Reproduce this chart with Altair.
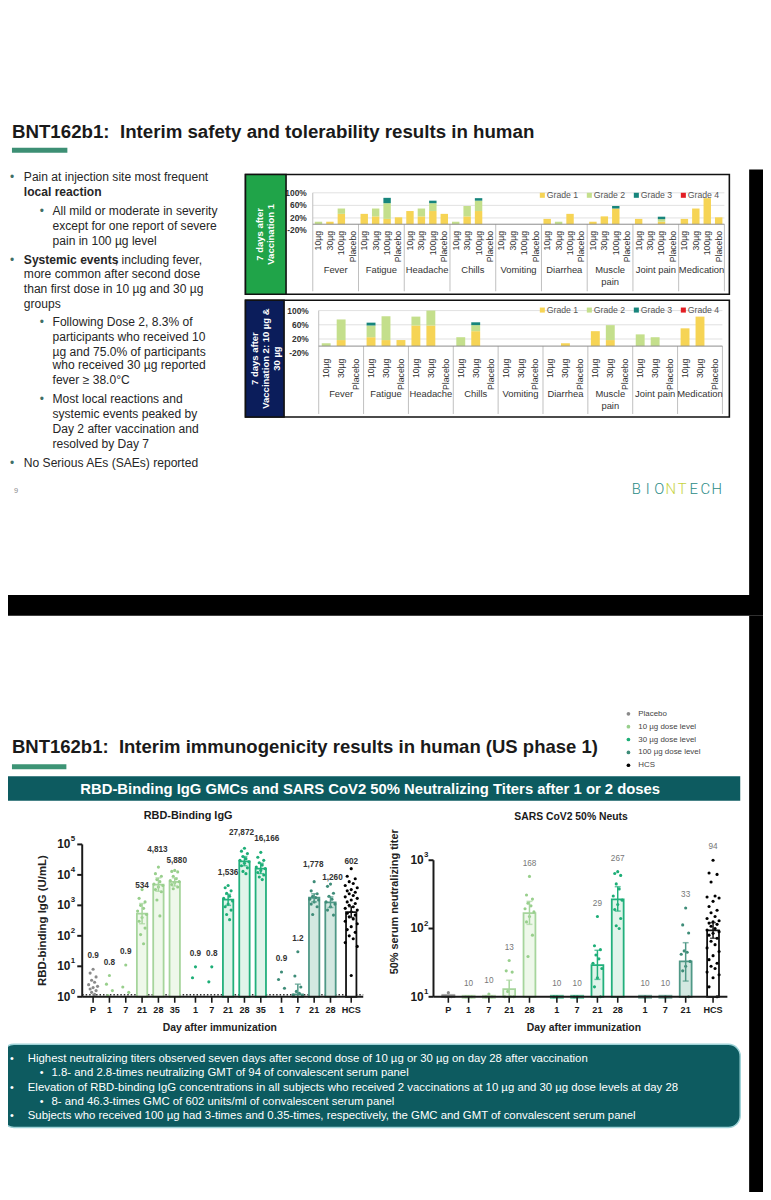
import altair as alt
import pandas as pd

# ===================== DATA: slide 1 (reactogenicity, % of participants) =====================
symptoms = ["Fever", "Fatigue", "Headache", "Chills", "Vomiting", "Diarrhea",
            "Muscle\npain", "Joint pain", "Medication"]
doses_dose1 = ["10µg", "30µg", "100µg", "Placebo"]
doses_dose2 = ["10µg", "30µg", "Placebo"]
grades = ["Grade 1", "Grade 2", "Grade 3", "Grade 4"]

# 7 days after vaccination 1 (symptom by symptom: 10, 30, 100 µg, placebo)
d1_grade1 = [0, 8, 33, 0,   33, 25, 17, 22,   42, 25, 42, 33,   0, 25, 42, 0,
             0, 0, 0, 0,    17, 0, 33, 0,     8, 25, 50, 0,     17, 0, 8, 0,
             17, 50, 83, 22]
d1_grade2 = [8, 0, 17, 0,   0, 25, 50, 0,     0, 25, 25, 0,     8, 33, 33, 0,
             0, 0, 0, 0,    0, 8, 0, 0,       0, 0, 0, 0,       0, 0, 8, 0,
             0, 0, 0, 0]
d1_grade3 = [0, 0, 0, 0,    0, 0, 17, 0,      0, 0, 8, 0,       0, 0, 8, 0,
             0, 0, 0, 0,    0, 0, 0, 0,       0, 0, 8, 0,       0, 0, 8, 0,
             0, 0, 0, 0]
d1_grade4 = [0, 0, 0, 0,    0, 0, 0, 0,       0, 0, 0, 0,       0, 0, 0, 0,
             0, 0, 0, 0,    0, 0, 0, 0,       0, 0, 0, 0,       0, 0, 0, 0,
             0, 0, 0, 0]

# 7 days after vaccination 2 (10 µg, 30 µg, placebo)
d2_grade1 = [0, 17, 0,   25, 17, 17,   58, 58, 0,   0, 42, 0,   0, 0, 0,
             0, 8, 0,    42, 17, 0,    0, 0, 0,     50, 83, 0]
d2_grade2 = [8, 58, 0,   33, 67, 0,    25, 42, 0,   25, 17, 0,  0, 0, 0,
             0, 0, 0,    0, 42, 0,     33, 25, 0,   0, 0, 0]
d2_grade3 = [0, 0, 0,    8, 0, 0,      0, 0, 0,     0, 8, 0,    0, 0, 0,
             0, 0, 0,    0, 0, 0,      0, 0, 0,     0, 0, 0]
d2_grade4 = [0, 0, 0,    0, 0, 0,      0, 0, 0,     0, 0, 0,    0, 0, 0,
             0, 0, 0,    0, 0, 0,      0, 0, 0,     0, 0, 0]

# ===================== DATA: slide 2 (immunogenicity) =====================
cohorts = ["Placebo", "10 µg", "30 µg", "100 µg", "HCS"]
legend_labels = ["Placebo", "10 µg dose level", "30 µg dose level", "100 µg dose level", "HCS"]

igg_days = ["P", "1", "7", "21", "28", "35", "1", "7", "21", "28", "35", "1", "7", "21", "28", "HCS"]
igg_cohort = ["Placebo", "10 µg", "10 µg", "10 µg", "10 µg", "10 µg", "30 µg", "30 µg", "30 µg",
              "30 µg", "30 µg", "100 µg", "100 µg", "100 µg", "100 µg", "HCS"]
igg_gmc = [0.9, 0.8, 0.9, 534, 4813, 5880, 0.9, 0.8, 1536, 27872, 16166, 0.9, 1.2, 1778, 1260, 602]
igg_ci_low = [None, None, None, 250, 2900, 4300, None, None, 1000, 20000, 11000, None, 1.0, 1300, 850, 400]
igg_ci_high = [None, None, None, 1150, 8000, 8000, None, None, 2300, 40000, 24000, None, 2.6, 2400, 1900, 900]
igg_points = [
    [8, 6, 4.5, 3.5, 3, 2.5, 2.2, 2, 1.8, 1.6, 1.4, 1.2],
    [5, 2.6, 1.6, 1.1],
    [11, 2.1, 1.4],
    [3300, 1700, 1300, 1000, 800, 650, 500, 400, 300, 180, 110, 55],
    [18000, 11000, 9000, 7000, 6000, 5000, 4500, 4000, 3300, 2800, 1500, 450],
    [14000, 13000, 12500, 9000, 7500, 6500, 6000, 5500, 4800, 4000, 3500],
    [9.6, 4.2],
    [9.6, 3.1],
    [4500, 3800, 3000, 2500, 2000, 1700, 1400, 1100, 900, 700, 500, 340],
    [75000, 60000, 50000, 40000, 34000, 30000, 27000, 24000, 20000, 17000, 13000, 11000],
    [55000, 38000, 30000, 25000, 21000, 18000, 16000, 14000, 12000, 10000, 8500, 7000],
    [6.5, 3.7, 1.9],
    [30, 4.8, 2.1, 1.5, 1.3, 1.15, 1.05],
    [6000, 3000, 2400, 2000, 1800, 1600, 1500, 1300, 1100, 900, 500],
    [5000, 4200, 2500, 2000, 1600, 1300, 1100, 900, 700, 480],
    [16000, 9000, 7500, 6000, 5200, 4500, 3800, 3300, 3000, 2700, 2400, 2100, 1900, 1700,
     1500, 1300, 1150, 1000, 900, 800, 700, 620, 550, 480, 420, 360, 300, 250, 200, 160,
     130, 100, 80, 60, 45, 5],
]

neut_days = ["P", "1", "7", "21", "28", "1", "7", "21", "28", "1", "7", "21", "HCS"]
neut_cohort = ["Placebo", "10 µg", "10 µg", "10 µg", "10 µg", "30 µg", "30 µg", "30 µg", "30 µg",
               "100 µg", "100 µg", "100 µg", "HCS"]
neut_gmt = [10.3, 10, 10, 13, 168, 10, 10, 29, 267, 10, 10, 33, 94]
neut_ci_low = [None, None, None, 10, 115, None, None, 18, 180, None, None, 17, 72]
neut_ci_high = [None, None, None, 17.5, 250, None, None, 48, 410, None, None, 62, 122]
neut_points = [
    [11.5, 10, 10],
    [10, 10, 10],
    [11, 10, 10],
    [34, 24, 23, 12, 10, 10, 10],
    [580, 310, 270, 235, 215, 195, 175, 150, 125, 80, 39],
    [10, 10],
    [10, 10],
    [150, 56, 49, 41, 36, 31, 26, 19, 14, 10],
    [680, 640, 600, 450, 380, 300, 260, 225, 190, 140, 110, 100],
    [10],
    [10],
    [200, 113, 86, 47, 45, 42, 33, 28, 24, 10],
    [1000, 650, 620, 480, 300, 290, 280, 250, 210, 185, 170, 150, 140, 130, 125, 120, 115,
     108, 100, 95, 90, 85, 80, 72, 65, 58, 52, 46, 40, 35, 31, 28, 26, 23, 21, 19, 14, 10],
]

# ===================== STYLE / LAYOUT =====================
FONT = "'Liberation Sans', Arial, sans-serif"
grade_colors = ["#f6d455", "#c4df8c", "#17857c", "#e31e24"]
bar_stroke = ["#8c8c8c", "#a6d59c", "#22b07c", "#4f9886", "#111111"]
bar_fill = ["#e9e9e9", "#eef8ea", "#e0f4ea", "#d3e8e1", "#ffffff"]
dot_color = ["#8a8a8a", "#98cf8c", "#1dae77", "#3e8c78", "#000000"]
TEAL = "#0d5b60"
W, H = 763, 1184
# small manual nudges of value labels (dx, dy in px), as placed on the slide
IGG_LABEL_NUDGE = {3: (0, 9), 4: (-1, -4), 5: (2, 3), 9: (-3, -2), 10: (6, 0),
                   13: (-1, -4), 14: (2, 7), 15: (0, 6)}


def X(v):
    return v - 8


def Y(v):
    return v - 8


ONE = pd.DataFrame({"k": [0]})
layers = []


def add(ch):
    layers.append(ch)


def text(s, x, y, size=12, color="#222", weight="normal", align="left", angle=0,
         font=FONT, baseline="middle", line_height=None):
    kw = dict(text=s, fontSize=size, color=color, fontWeight=weight, align=align,
              font=font, baseline=baseline)
    if angle:
        kw["angle"] = angle
    if line_height:
        kw["lineHeight"] = line_height
    if "\n" in s:
        kw["lineBreak"] = "\n"
    add(alt.Chart(ONE).mark_text(**kw).encode(x=alt.value(X(x)), y=alt.value(Y(y))))


def rect(x0, y0, x1, y1, fill="transparent", stroke=None, sw=1, radius=0):
    kw = dict(fill=fill)
    if stroke:
        kw["stroke"] = stroke
        kw["strokeWidth"] = sw
    if radius:
        kw["cornerRadius"] = radius
    add(alt.Chart(ONE).mark_rect(**kw).encode(
        x=alt.value(X(x0)), x2=alt.value(X(x1)), y=alt.value(Y(y0)), y2=alt.value(Y(y1))))


def rule(x0, y0, x1, y1, color="#000", sw=1, dash=None):
    kw = dict(color=color, strokeWidth=sw)
    if dash:
        kw["strokeDash"] = dash
    add(alt.Chart(ONE).mark_rule(**kw).encode(
        x=alt.value(X(x0)), x2=alt.value(X(x1)), y=alt.value(Y(y0)), y2=alt.value(Y(y1))))


def lin(d0, d1, r0, r1):
    return alt.Scale(domain=[d0, d1], range=[r0, r1], nice=False, zero=False, padding=0)


# ===================== SLIDE 1 =====================
text("BNT162b1:\u00a0 Interim safety and tolerability results in human", 12, 127, size=18.9,
     weight="bold", color="#1a1a1a")
rect(12, 143, 68, 148, fill="#3d8f74")

BUL = "#3f6f66"
bl = [  # (bullet x, text x, y, text, bold)
    (10, 24, 173, "Pain at injection site most frequent", False),
    (None, 24, 188, "local reaction", True),
    (40, 53, 207, "All mild or moderate in severity", False),
    (None, 53, 222, "except for one report of severe", False),
    (None, 53, 237, "pain in 100 µg level", False),
    (None, 24, 271, "more common after second dose", False),
    (None, 24, 286, "than first dose in 10 µg and 30 µg", False),
    (None, 24, 301, "groups", False),
    (40, 53, 319, "Following Dose 2, 8.3% of", False),
    (None, 53, 334, "participants who received 10", False),
    (None, 53, 349, "µg and 75.0% of participants", False),
    (None, 53, 363, "who received 30 µg reported", False),
    (None, 53, 378, "fever ≥ 38.0°C", False),
    (40, 53, 397, "Most local reactions and", False),
    (None, 53, 412, "systemic events peaked by", False),
    (None, 53, 427, "Day 2 after vaccination and", False),
    (None, 53, 442, "resolved by Day 7", False),
    (10, 24, 462, "No Serious AEs (SAEs) reported", False),
]
for bx, tx, ty, s, b in bl:
    if bx is not None:
        text("•", bx, ty, size=12, color=BUL)
    text(s, tx, ty, size=12.2, weight="bold" if b else "normal", color="#262626")
text("•", 10, 256, size=12, color=BUL)
text("Systemic events", 24, 256, size=12.2, weight="bold", color="#262626")
text(", including fever,", 116, 256, size=12.2, color="#262626")


def safety_panel(gvals, doses, top, bottom, x0, x1, y_m20, y_100, y_dose, y_sym, bar_w,
                 lab_right, leg_y, box_color, box_lines, box_right):
    nd = len(doses)
    n = len(symptoms) * nd
    xs = lin(0, n, X(x0), X(x1))
    ys = lin(-20, 100, Y(y_m20), Y(y_100))
    y0pix = y_m20 + (y_100 - y_m20) * 20 / 120
    rows = []
    for si in range(len(symptoms)):
        for di in range(nd):
            i = si * nd + di
            base = 0
            for gname, vals in zip(grades, gvals):
                v = vals[i]
                if v > 0:
                    rows.append({"pos": i + 0.5, "grade": gname, "lo": base, "hi": base + v})
                    base += v
    bars = pd.DataFrame(rows)
    rect(248, top, 737, bottom, stroke="#111", sw=1.6)
    add(alt.Chart(pd.DataFrame({"v": [20, 60, 100]})).mark_rule(color="#d9d9d9", strokeWidth=0.8)
        .encode(y=alt.Y("v:Q", scale=ys, axis=None), x=alt.value(X(x0)), x2=alt.value(X(x1))))
    add(alt.Chart(pd.DataFrame({"v": [-20, 20, 60, 100]}))
        .transform_calculate(lab="datum.v + '%'")
        .mark_text(align="right", baseline="middle", fontSize=8.5, fontWeight="bold", color="#333", font=FONT)
        .encode(y=alt.Y("v:Q", scale=ys, axis=None), x=alt.value(X(lab_right)), text="lab:N"))
    rule(x0, y_100, x0, bottom - 3, color="#bfbfbf", sw=1)
    div = pd.DataFrame({"b": [k * nd for k in range(1, len(symptoms) + 1)]})
    add(alt.Chart(div).mark_rule(color="#bfbfbf", strokeWidth=1)
        .encode(x=alt.X("b:Q", scale=xs, axis=None), y=alt.value(Y(y0pix)), y2=alt.value(Y(bottom - 3))))
    add(alt.Chart(bars).mark_bar(size=bar_w)
        .encode(x=alt.X("pos:Q", scale=xs, axis=None),
                y=alt.Y("lo:Q", scale=ys, axis=None), y2="hi:Q",
                color=alt.Color("grade:N", scale=alt.Scale(domain=grades, range=grade_colors), legend=None)))
    rule(x0, y0pix, x1, y0pix, color="#8c8c8c", sw=1)
    dl = pd.DataFrame({"pos": [i + 0.5 for i in range(n)],
                       "dose": [doses[i % nd] for i in range(n)]})
    add(alt.Chart(dl).mark_text(angle=270, align="right", baseline="middle", fontSize=8.8,
                                color="#333", font=FONT)
        .encode(x=alt.X("pos:Q", scale=xs, axis=None), y=alt.value(Y(y_dose)), text="dose:N"))
    sl = pd.DataFrame({"pos": [k * nd + nd / 2 for k in range(len(symptoms))], "sym": symptoms})
    add(alt.Chart(sl).mark_text(align="center", baseline="top", fontSize=9.5, color="#333",
                                font=FONT, lineBreak="\n", lineHeight=12)
        .encode(x=alt.X("pos:Q", scale=xs, axis=None), y=alt.value(Y(y_sym)), text="sym:N"))
    lg = pd.DataFrame({"grade": grades, "i": list(range(len(grades)))})
    lg["sx"] = X(548) + lg["i"] * 47.5
    lg["tx"] = lg["sx"] + 4.5
    add(alt.Chart(lg).mark_square(size=26, opacity=1)
        .encode(x=alt.X("sx:Q", scale=None), y=alt.value(Y(leg_y)),
                color=alt.Color("grade:N", scale=alt.Scale(domain=grades, range=grade_colors), legend=None)))
    add(alt.Chart(lg).mark_text(align="left", baseline="middle", fontSize=8.8, color="#555", font=FONT)
        .encode(x=alt.X("tx:Q", scale=None), y=alt.value(Y(leg_y)), text="grade:N"))
    rect(248, top, box_right, bottom, fill=box_color, stroke="#111", sw=1.6)
    for lx, s in box_lines:
        text(s, lx, (top + bottom) / 2, size=9.6, color="white", weight="bold",
             align="center", angle=270)


safety_panel([d1_grade1, d1_grade2, d1_grade3, d1_grade4], doses_dose1, 170, 291,
             316, 732, 226.6, 188.5, 227, 262, 7.5, 310, 191, "#20a449",
             [(263, "7 days after"), (274, "Vaccination 1")], 289)
safety_panel([d2_grade1, d2_grade2, d2_grade3, d2_grade4], doses_dose2, 297, 415,
             322, 730, 350.6, 307.5, 356, 387, 9, 312, 307, "#0b1d5b",
             [(258, "7 days after"), (269, "Vaccination 2: 10 µg &"), (280, "30 µg")], 287)

text("9", 14, 490, size=7.5, color="#8a8a8a")
logo_cols = ["#2b8b86", "#2b8b86", "#2b8b86", "#c6d33f", "#c6d33f", "#2b8b86", "#2b8b86", "#2b8b86"]
for i, ch in enumerate("BIONTECH"):
    text(ch, 643 + i * 11.6, 488, size=15, color=logo_cols[i], align="center", font="Roboto",
         weight=300)

rect(0, 595, 771, 616, fill="#000000")
rect(757, 165, 771, 595, fill="#000000")
rect(757, 616, 771, 1200, fill="#000000")

# ===================== SLIDE 2 =====================
text("BNT162b1:\u00a0 Interim immunogenicity results in human (US phase 1)", 12, 749,
     size=18.7, weight="bold", color="#1a1a1a")
rect(12, 766, 67, 771, fill="#3d9475")

leg = pd.DataFrame({"c": cohorts, "lab": legend_labels, "i": list(range(5))})
leg["y"] = Y(715) + leg["i"] * 13
add(alt.Chart(leg).mark_circle(size=14, opacity=1)
    .encode(x=alt.value(X(635)), y=alt.Y("y:Q", scale=None),
            color=alt.Color("c:N", scale=alt.Scale(domain=cohorts, range=dot_color), legend=None)))
add(alt.Chart(leg).mark_text(align="left", baseline="middle", fontSize=8, color="#444", font=FONT)
    .encode(x=alt.value(X(645)), y=alt.Y("y:Q", scale=None), text="lab:N"))

rect(0, 778, 748, 803, fill=TEAL)
text("RBD-Binding IgG GMCs and SARS CoV2 50% Neutralizing Titers after 1 or 2 doses", 374, 791,
     size=15, weight="bold", color="white", align="center")
text("RBD-Binding IgG", 190, 818, size=11, weight="bold", color="#1a1a1a", align="center")
text("SARS CoV2 50% Neuts", 577, 819, size=10.5, weight="bold", color="#1a1a1a", align="center")


def positions(groups, gap):
    out, g, prev = [], 0.0, None
    for i, grp in enumerate(groups):
        if prev is not None and grp != prev and prev != "Placebo":
            g += gap
        out.append(i + g)
        prev = grp
    return out


def log_panel(days, groups, vals, lo, hi, pts, base, top, x_first, step, gap, ax0, ax1,
              ybase, ytop, bar_w, exps, lab_right, tick_x0, lab_color, lab_weight,
              show_placebo_label, dotted, nudge):
    pos = positions(groups, gap)
    xs = lin((ax0 - x_first) / step, (ax1 - x_first) / step, X(ax0), X(ax1))
    ys = alt.Scale(type="log", domain=[base, top], range=[Y(ybase), Y(ytop)], nice=False)
    fill_sc = alt.Scale(domain=cohorts, range=bar_fill)
    stroke_sc = alt.Scale(domain=cohorts, range=bar_stroke)
    dot_sc = alt.Scale(domain=cohorts, range=dot_color)
    xe = alt.X("pos:Q", scale=xs, axis=None)

    bars = pd.DataFrame([{"pos": pos[i], "v": vals[i], "b": base, "c": groups[i]}
                         for i in range(len(vals)) if vals[i] > base])
    flat = pd.DataFrame([{"pos": pos[i], "v": vals[i], "c": groups[i]}
                         for i in range(len(vals)) if base * 0.95 <= vals[i] <= base * 1.15])
    err = pd.DataFrame([{"pos": pos[i], "lo": lo[i], "hi": hi[i], "c": groups[i]}
                        for i in range(len(vals)) if lo[i] is not None])
    caps = pd.concat([err[["pos", "c"]].assign(v=err["lo"]), err[["pos", "c"]].assign(v=err["hi"])])
    pattern = [0, -3, 3, -1.5, 1.5, -4.5, 4.5]
    prow = []
    for i, plist in enumerate(pts):
        k = 1.35 if groups[i] == "HCS" else 1.0
        for j, v in enumerate(sorted(plist, reverse=True)):
            prow.append({"pos": pos[i] + pattern[j % len(pattern)] * k / step, "v": v, "c": groups[i]})
    pdf = pd.DataFrame(prow)
    labs = []
    for i in range(len(vals)):
        if groups[i] == "Placebo" and not show_placebo_label:
            continue
        t = max([vals[i], hi[i] or 0] + list(pts[i]))
        lab = f"{vals[i]:.1f}" if vals[i] < 10 else f"{vals[i]:,.0f}"
        dx, dy = nudge.get(i, (0, 0))
        labs.append({"pos": pos[i] + dx / step, "t": t, "lab": lab, "dy": dy})
    ldf = pd.DataFrame(labs)

    if dotted:
        rule(ax0, ybase - 2, ax1, ybase - 2, color="#333", sw=1.4, dash=[1.5, 2])
    add(alt.Chart(bars).mark_bar(size=bar_w, strokeWidth=1.8)
        .encode(x=xe, y=alt.Y("v:Q", scale=ys, axis=None), y2="b:Q",
                fill=alt.Fill("c:N", scale=fill_sc, legend=None),
                stroke=alt.Stroke("c:N", scale=stroke_sc, legend=None)))
    add(alt.Chart(pdf).mark_circle(size=10, opacity=1)
        .encode(x=xe, y=alt.Y("v:Q", scale=ys, axis=None),
                color=alt.Color("c:N", scale=dot_sc, legend=None)))
    add(alt.Chart(err).mark_rule(strokeWidth=1.5)
        .encode(x=xe, y=alt.Y("lo:Q", scale=ys, axis=None), y2="hi:Q",
                color=alt.Color("c:N", scale=stroke_sc, legend=None)))
    add(alt.Chart(caps).mark_tick(orient="horizontal", size=6, thickness=1.5)
        .encode(x=xe, y=alt.Y("v:Q", scale=ys, axis=None),
                color=alt.Color("c:N", scale=stroke_sc, legend=None)))
    if len(flat):
        add(alt.Chart(flat).mark_tick(orient="horizontal", size=bar_w + 2, thickness=4)
            .encode(x=xe, y=alt.Y("v:Q", scale=ys, axis=None),
                    color=alt.Color("c:N", scale=stroke_sc, legend=None)))
    for dyv in sorted(set(ldf["dy"])):
        sub = ldf[ldf["dy"] == dyv]
        add(alt.Chart(sub).mark_text(dy=-9 + dyv, fontSize=8.3, fontWeight=lab_weight, color=lab_color,
                                     font=FONT, align="center", baseline="bottom")
            .encode(x=xe, y=alt.Y("t:Q", scale=ys, axis=None), text="lab:N"))
    # axes
    rule(ax0, ybase, ax0, ytop, color="#1a1a1a", sw=2)
    rule(ax0, ybase, ax1, ybase, color="#1a1a1a", sw=2)
    yt = pd.DataFrame({"v": [10 ** e for e in exps], "e": [str(e) for e in exps]})
    add(alt.Chart(yt).mark_rule(color="#1a1a1a", strokeWidth=2)
        .encode(y=alt.Y("v:Q", scale=ys, axis=None), x=alt.value(X(tick_x0)), x2=alt.value(X(ax0))))
    add(alt.Chart(yt).mark_text(align="right", baseline="middle", fontSize=12, fontWeight="bold",
                                color="#1a1a1a", font=FONT, text="10")
        .encode(y=alt.Y("v:Q", scale=ys, axis=None), x=alt.value(X(lab_right - 6))))
    add(alt.Chart(yt).mark_text(align="left", baseline="middle", fontSize=8, fontWeight="bold",
                                color="#1a1a1a", font=FONT, dy=-5)
        .encode(y=alt.Y("v:Q", scale=ys, axis=None), x=alt.value(X(lab_right - 5.5)), text="e:N"))
    xt = pd.DataFrame({"pos": pos, "day": days})
    add(alt.Chart(xt).mark_rule(color="#1a1a1a", strokeWidth=1.6)
        .encode(x=xe, y=alt.value(Y(ybase)), y2=alt.value(Y(ybase + 6))))
    add(alt.Chart(xt).mark_text(align="center", baseline="middle", fontSize=9.2, fontWeight="bold",
                                color="#1a1a1a", font=FONT)
        .encode(x=xe, y=alt.value(Y(ybase + 13)), text="day:N"))


log_panel(igg_days, igg_cohort, igg_gmc, igg_ci_low, igg_ci_high, igg_points,
          1, 1e5, 94, 16.5, 0.27, 83, 367, 1001, 847, 10.5, [0, 1, 2, 3, 4, 5], 77, 78,
          "#333", "bold", True, True, IGG_LABEL_NUDGE)
log_panel(neut_days, neut_cohort, neut_gmt, neut_ci_low, neut_ci_high, neut_points,
          10, 1000, 453, 20.5, 0.35, 438, 735, 1001, 863, 12, [1, 2, 3], 434, 433,
          "#777", "normal", False, False, {})

text("RBD-binding IgG (U/mL)", 43, 924, size=11.5, weight="bold", angle=270, align="center")
text("50% serum neutralizing titer", 399, 905, size=11, weight="bold", angle=270, align="center")
text("Day after immunization", 222, 1033, size=10.5, weight="bold", align="center")
text("Day after immunization", 590, 1033, size=10.5, weight="bold", align="center")

rect(2, 1049, 748, 1133, fill=TEAL, stroke="#9fd3d8", sw=1.5, radius=12)
summary = [
    (10, 28, 1064, "Highest neutralizing titers observed seven days after second dose of 10 µg or 30 µg on day 28 after vaccination"),
    (40, 52, 1078.5, "1.8- and 2.8-times neutralizing GMT of 94 of convalescent serum panel"),
    (10, 28, 1093, "Elevation of RBD-binding IgG concentrations in all subjects who received 2 vaccinations at 10 µg and 30 µg dose levels at day 28"),
    (40, 52, 1107.5, "8- and 46.3-times GMC of 602 units/ml of convalescent serum panel"),
    (10, 28, 1122, "Subjects who received 100 µg had 3-times and 0.35-times, respectively, the GMC and GMT of convalescent serum panel"),
]
for bx, tx, ty, s in summary:
    text("•", bx, ty, size=11, color="white")
    text(s, tx, ty, size=11.5, color="white")

chart = (alt.layer(*layers)
         .properties(width=W, height=H, padding=0, autosize=alt.AutoSizeParams(type="none"),
                     background="white")
         .resolve_scale(x="independent", y="independent", color="independent",
                        fill="independent", stroke="independent")
         .configure_view(stroke=None))

chart.save("out.html", embed_options={"renderer": "svg", "actions": False})
